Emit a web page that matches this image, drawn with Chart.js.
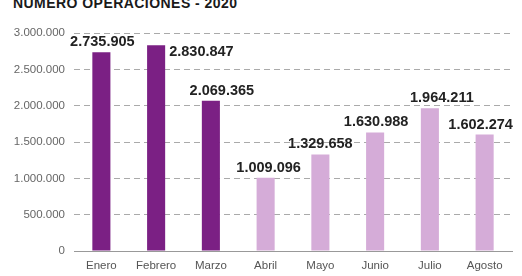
<!DOCTYPE html>
<html>
<head>
<meta charset="utf-8">
<script src="https://cdn.jsdelivr.net/npm/chart.js@4"></script>
<style>
  html, body { margin: 0; padding: 0; background: #fff; }
  .wrap { position: relative; width: 522px; height: 276px; overflow: hidden; }
  .title {
    position: absolute; left: 13px; top: -5px;
    font: bold 14px "Liberation Sans", Arial, sans-serif; color: #1a1a1a;
    letter-spacing: 0.45px;
  }
  canvas { position: absolute; left: 0; top: 0; }
</style>
</head>
<body>
<div class="wrap">
  <div class="title">NÚMERO OPERACIONES - 2020</div>
  <canvas id="opsChart" width="522" height="276"></canvas>
</div>
<script>
const months = ['Enero', 'Febrero', 'Marzo', 'Abril', 'Mayo', 'Junio', 'Julio', 'Agosto'];
const operations = [2735905, 2830847, 2069365, 1009096, 1329658, 1630988, 1964211, 1602274];
const yTicks = [0, 500000, 1000000, 1500000, 2000000, 2500000, 3000000];

const dark = '#7b2084';
const light = '#d5acd8';
const barColors = months.map((m, i) => i < 3 ? dark : light);

const fmt = v => v.toString().replace(/\B(?=(\d{3})+(?!\d))/g, '.');

// value labels above the bars
const valueLabels = {
    id: 'valueLabels',
    afterDatasetsDraw(chart) {
        const ctx = chart.ctx;
        const meta = chart.getDatasetMeta(0);
        const shift = [1, 0, 11, 3, 0, 1, 12, -4];
        ctx.save();
        ctx.font = 'bold 14.5px "Liberation Sans", Arial, sans-serif';
        ctx.fillStyle = '#222';
        ctx.textBaseline = 'alphabetic';
        meta.data.forEach((bar, i) => {
            const txt = fmt(operations[i]);
            if (i === 1) {
                ctx.textAlign = 'left';
                ctx.fillText(txt, bar.x + bar.width / 2 + 4, bar.y + 11);
            } else {
                ctx.textAlign = 'center';
                ctx.fillText(txt, bar.x + shift[i], bar.y - 6);
            }
        });
        ctx.restore();
    }
};

const tickFont = { family: '"Liberation Sans Narrow", "Liberation Sans", sans-serif', size: 11.5 };

new Chart(document.getElementById('opsChart'), {
    type: 'bar',
    data: {
        labels: months,
        datasets: [{
            data: operations,
            backgroundColor: barColors,
            categoryPercentage: 1,
            barPercentage: 0.33
        }]
    },
    options: {
        responsive: false,
        animation: false,
        layout: { padding: { top: 33, right: 10, left: 0, bottom: 0 } },
        plugins: { legend: { display: false }, tooltip: { enabled: false } },
        scales: {
            x: {
                grid: { display: false, drawTicks: false },
                border: { display: true, color: '#999', width: 1 },
                ticks: { color: '#555', padding: 8, font: tickFont },
                afterFit: s => { s.height = 25; }
            },
            y: {
                min: 0,
                max: 3000000,
                afterBuildTicks: s => { s.ticks = yTicks.map(v => ({ value: v })); },
                grid: { color: '#aaa', drawTicks: false, lineWidth: 1 },
                border: { display: false, dash: [6, 4] },
                ticks: {
                    color: '#666',
                    padding: 9,
                    font: tickFont,
                    callback: v => fmt(v)
                },
                afterFit: s => { s.width = 74; }
            }
        }
    },
    plugins: [valueLabels]
});
</script>
</body>
</html>
